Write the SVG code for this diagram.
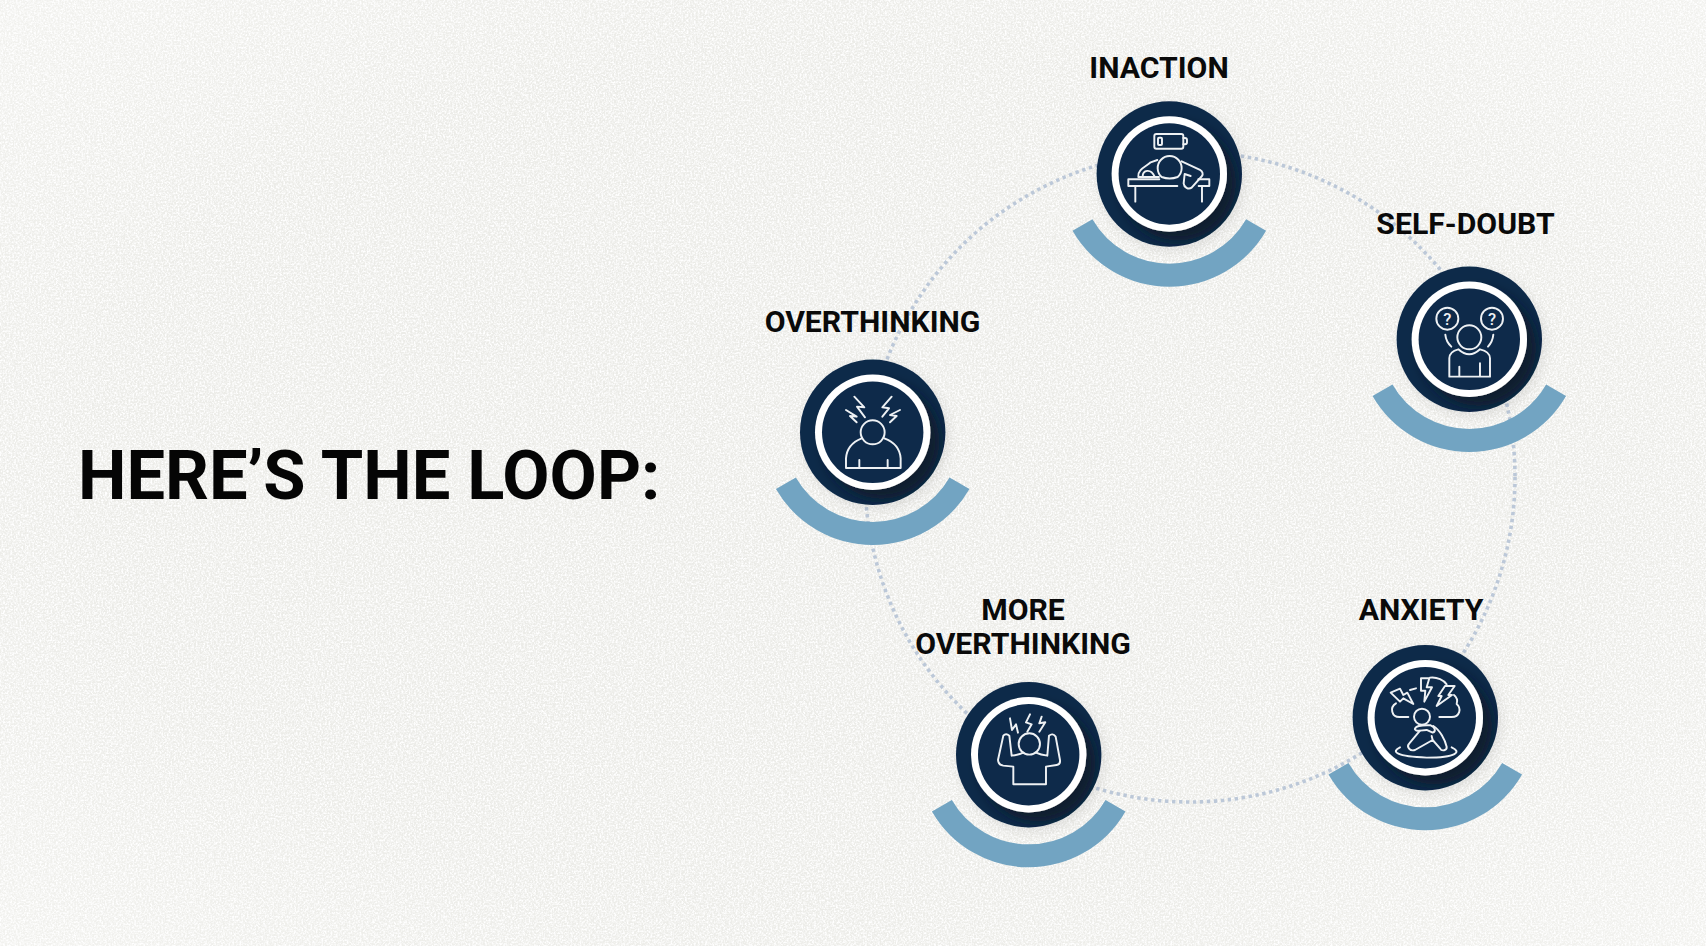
<svg xmlns="http://www.w3.org/2000/svg" width="1706" height="946" viewBox="0 0 1706 946">
<style>
.lab{font:700 30.2px Roboto,"Liberation Sans",sans-serif;fill:#0a0a0a;text-anchor:middle}
.title{font:700 68.6px Roboto,"Liberation Sans",sans-serif;fill:#050505}
.ic{fill:none;stroke:#eef1f4;stroke-width:5.8;stroke-linejoin:round;stroke-linecap:round}
.q{font:500 50px Roboto,"Liberation Sans",sans-serif;fill:#eef1f4;stroke:none;text-anchor:middle}
.arc{fill:none;stroke:#72a4c2;stroke-width:23}
.loop{fill:none;stroke:#bcc8d8;stroke-width:3.6;stroke-dasharray:3.4 3.6}
</style>
<defs>
<radialGradient id="bg" cx="50%" cy="50%" r="75%">
<stop offset="0" stop-color="#ebebe7"/><stop offset=".6" stop-color="#ecece8"/><stop offset="1" stop-color="#f3f3f0"/>
</radialGradient>
<filter id="noise" x="0" y="0" width="100%" height="100%">
<feTurbulence type="fractalNoise" baseFrequency=".55" numOctaves="3" seed="4"/>
<feColorMatrix values="0 0 0 0 1  0 0 0 0 1  0 0 0 0 1  2.6 0 0 0 -.95"/>
</filter>
<filter id="sh" x="-30%" y="-30%" width="170%" height="170%"><feDropShadow dx="3" dy="4" stdDeviation="6" flood-color="#000" flood-opacity=".09"/></filter>
<clipPath id="cl"><circle r="72.7"/></clipPath>
<filter id="ringsh" x="-40%" y="-40%" width="180%" height="180%"><feDropShadow dx="9" dy="9" stdDeviation="6" flood-color="#081426" flood-opacity=".8"/></filter>
<g id="disc">
<path class="arc" d="M-86.8 51A100.2 100.2 0 0 0 86.8 51"/>
<circle r="72.7" fill="#0e2a4a" filter="url(#sh)"/>
<g clip-path="url(#cl)"><circle r="57.7" fill="#fff" filter="url(#ringsh)"/></g>
<circle r="50.7" fill="#0e2a4a"/>
</g>
</defs>
<rect id="background" width="1706" height="946" fill="url(#bg)"/>
<rect width="1706" height="946" filter="url(#noise)"/>
<g id="connectors"><circle class="loop" cx="1190" cy="477" r="325"/></g>
<text id="title" class="title" x="78" y="499">HERE’S THE LOOP:</text>

<g id="node-inaction">
<use href="#disc" x="1169.3" y="174"/>
<g class="ic" transform="translate(1060 80) scale(.3333)">
<rect x="283" y="162" width="87" height="44" rx="6"/><path d="M370 174h5q6 0 6 6v7q0 6-6 6h-5"/><rect x="294" y="173" width="12" height="22" rx="3"/>
<path d="M305 291A36 36 0 1 1 353 291Q329 300 305 291"/>
<path d="M352 318H205V298H298M415 298H448V318H416M226 318V365M426 318V365"/>
<path d="M235 290C232 268 258 260 272 247L292 240M235 291H297M248 290C248 270 272 264 284 290"/>
<path d="M365 244L420 270C428 274 430 282 426 288L395 323C385 330 372 322 371 310L374 282L392 288"/>
</g>
<text class="lab" x="1159" y="78">INACTION</text>
</g>

<g id="node-self-doubt">
<use href="#disc" x="1469.3" y="339.3"/>
<g class="ic" transform="translate(1360 250) scale(.3333)">
<circle cx="262" cy="206" r="33"/><circle cx="396" cy="206" r="33"/>
<text class="q" x="262" y="224">?</text><text class="q" x="396" y="224">?</text>
<circle cx="328" cy="262" r="36"/>
<path d="M268 380V325Q268 305 295 298Q328 328 360 298Q390 305 390 325V380ZM298 350V380M360 340V380"/>
<path d="M256 254Q258 275 274 290M400 254Q398 275 384 290"/>
</g>
<text class="lab" x="1465.5" y="234">SELF-DOUBT</text>
</g>

<g id="node-anxiety">
<use href="#disc" x="1425.3" y="717.7"/>
<g class="ic" transform="translate(1320 630) scale(.3333)">
<path d="M212 188L240 176L250 195L262 188L280 222L250 205L240 215Z"/>
<path d="M303 145H328L320 172H336L313 215L316 182H303Z"/>
<path d="M375 168H404L385 195H396L350 228L365 198H355Z"/>
<path d="M265 261H238C215 261 208 232 228 220M358 261H395C420 261 425 235 410 222C415 208 408 200 402 195M330 143C352 140 372 152 380 163M270 180L288 175"/>
<circle cx="306" cy="260" r="24"/>
<path d="M285 296C290 284 312 286 332 286C347 292 348 305 338 308L320 300L300 302C290 303 283 300 285 296"/>
<path d="M340 288C360 300 375 330 380 350C382 362 365 365 360 355L338 330L285 360C270 365 258 350 268 340L300 302M338 330L335 318"/>
<path d="M240 352C212 365 228 380 320 383C412 383 425 365 395 352"/>
</g>
<text class="lab" x="1421" y="619.5">ANXIETY</text>
</g>

<g id="node-more-overthinking">
<use href="#disc" x="1028.7" y="754.7"/>
<g class="ic" transform="translate(920 665) scale(.3333)">
<circle cx="328" cy="237" r="32"/>
<path d="M270 160L276 195L288 178L294 203M330 148L318 172L335 178L322 200M365 155L358 175L376 172L358 200"/>
<path d="M310 263Q295 270 275 272L268 212Q258 203 250 212L234 285Q235 300 250 302L280 305V358H378V305L410 300Q422 298 420 285L407 215Q398 203 387 212L382 272Q362 270 348 263"/>
</g>
<text class="lab"><tspan x="1023" y="619.5">MORE</tspan><tspan x="1023" y="654">OVERTHINKING</tspan></text>
</g>

<g id="node-overthinking">
<use href="#disc" x="872.7" y="432.3"/>
<g class="ic" transform="translate(765 340) scale(.3333)">
<circle cx="323" cy="277" r="36"/>
<path d="M290 295C265 305 245 325 243 355V384H407V355C405 325 385 305 358 295M283 360V384M368 360V384"/>
<path d="M268 170L298 202L276 200L300 232M380 170L352 202L372 205L352 230M243 210L275 230L255 228L275 247M405 210L375 225L395 228L375 247"/>
</g>
<text class="lab" x="872.5" y="332">OVERTHINKING</text>
</g>
</svg>
